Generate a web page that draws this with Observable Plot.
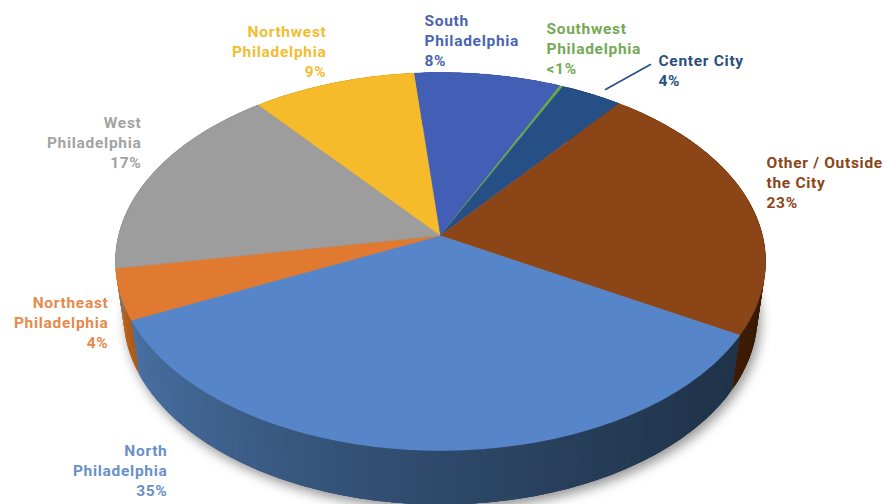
<!DOCTYPE html>
<html>
<head>
<meta charset="utf-8">
<script src="https://cdn.jsdelivr.net/npm/d3@7"></script>
<script src="https://cdn.jsdelivr.net/npm/@observablehq/plot@0.6"></script>
<style>
html,body{margin:0;padding:0;background:#fff;overflow:hidden}
svg{display:block}
</style>
</head>
<body>
<div id="chart"></div>
<script>
// Data, in clockwise order around the pie
const categories = ["North Philadelphia","Northeast Philadelphia","West Philadelphia","Northwest Philadelphia","South Philadelphia","Southwest Philadelphia","Center City","Other / Outside the City"];
const values = [34.6,4.3,17,9.3,8.3,0.2,3.5,22.8];
const percentLabels = ["35%","4%","17%","9%","8%","<1%","4%","23%"];
const labelLines = [["North","Philadelphia"],["Northeast","Philadelphia"],["West","Philadelphia"],["Northwest","Philadelphia"],["South","Philadelphia"],["Southwest","Philadelphia"],["Center City"],["Other / Outside","the City"]];
const topColors = ["#5686c9","#e07a30","#9d9d9d","#f5bb2a","#425fb5","#69a84f","#264f85","#8b4517"];
const textColors = ["#6a90c8","#e58a4c","#a3a3a3","#f2bd33","#4a65b0","#74a957","#2b4f80","#8b4517"];
const wallLeft = ["#4a72a6","#c86c22","#777777","#b88a1c","#324a8a","#4f7e3a","#1c3b63","#5a2b0a"];
const wallRight = ["#1f3349","#a85a1a","#777777","#b88a1c","#324a8a","#4f7e3a","#1c3b63","#3a1a04"];

// Label placement (page layout, not data)
const labelAnchor = ["end","end","end","end","start","start","start","start"];
const labelX = [167,108,141,326,424,546,658,766];
const labelY = [451,303,123,32,21,29,61,163];
const lineStep = 20;
const leader = [{x:605,y:89},{x:650,y:64}];

// Perspective pie geometry
const W = 887, H = 504;
const apex = {x:440,y:235}, radius = 322, persp = -0.1376, yGain = 153.1;
const depth = 54, wallShrink = 0.975, firstAngle = 30 * Math.PI/180;
const project = (t) => {
  const u = Math.cos(t), v = Math.sin(t), w = 1 + persp*v;
  return {x: apex.x + radius*u/w, y: (apex.y + yGain*v)/w};
};
const lower = (p) => ({x: apex.x + (p.x-apex.x)*wallShrink, y: p.y + depth});

const arcs = d3.pie().sort(null).startAngle(firstAngle).endAngle(firstAngle + 2*Math.PI)(values);
const sample = (a) => {
  const n = Math.max(2, Math.ceil((a.endAngle-a.startAngle)/(Math.PI/180)));
  return d3.range(n+1).map(i => a.startAngle + (a.endAngle-a.startAngle)*i/n);
};

const topFaces = arcs.flatMap((a,i) =>
  [apex, ...sample(a).map(project)].map(p => ({...p, id:categories[i], color:topColors[i]})));

// Wall bands overlap their neighbour so that no seam shows between them
const wallFaces = arcs.flatMap((a,i) => {
  const ts = sample(a);
  const shade = d3.interpolateRgb(wallLeft[i], wallRight[i]);
  const xs = ts.map(project).map(p => p.x);
  const lo = d3.min(xs), hi = d3.max(xs);
  return ts.slice(0,-1).flatMap((t,k) => {
    const run = ts.slice(k, k+4).map(project);
    const f = (run[0].x+run[1].x)/2;
    const color = shade(hi>lo ? Math.pow((f-lo)/(hi-lo), 0.65) : 0);
    return [...run, ...run.slice().reverse().map(lower)].map(c => ({...c, id:`${i}-${k}`, color}));
  });
});

const shadow = d3.range(0,361,2).map(d => {
  const p = lower(project(d*Math.PI/180));
  return {x:p.x+3, y:p.y+5};
});

const textRows = categories.flatMap((c,i) =>
  [...labelLines[i], percentLabels[i]].map((s,k) => ({
    text:s, x:labelX[i], y:labelY[i]+k*lineStep, anchor:labelAnchor[i], color:textColors[i]
  })));

const common = {x:"x", y:"y", curve:"linear"};
const textMark = (anchor) => Plot.text(textRows.filter(d => d.anchor===anchor), {
  x:"x", y:"y", text:"text", fill:"color", textAnchor:anchor,
  fontFamily:"Roboto", fontWeight:700, fontSize:15.5, lineAnchor:"middle"
});

const plot = Plot.plot({
  width:W, height:H, margin:0,
  x:{domain:[0,W], range:[0,W], axis:null},
  y:{domain:[0,H], range:[0,H], axis:null},
  color:{type:"identity"},
  style:{background:"#fff", letterSpacing:"0.7px"},
  marks:[
    Plot.line(shadow, {...common, fill:"#000", fillOpacity:0.42, stroke:"none", imageFilter:"blur(6px)"}),
    Plot.line(wallFaces, {...common, z:"id", fill:"color", stroke:"none"}),
    Plot.line(topFaces, {...common, z:"id", fill:"color", stroke:"color", strokeWidth:0.4}),
    Plot.line(leader, {...common, stroke:"#264f85", strokeWidth:1.6}),
    textMark("start"),
    textMark("end")
  ]
});
document.getElementById("chart").append(plot);
</script>
</body>
</html>
